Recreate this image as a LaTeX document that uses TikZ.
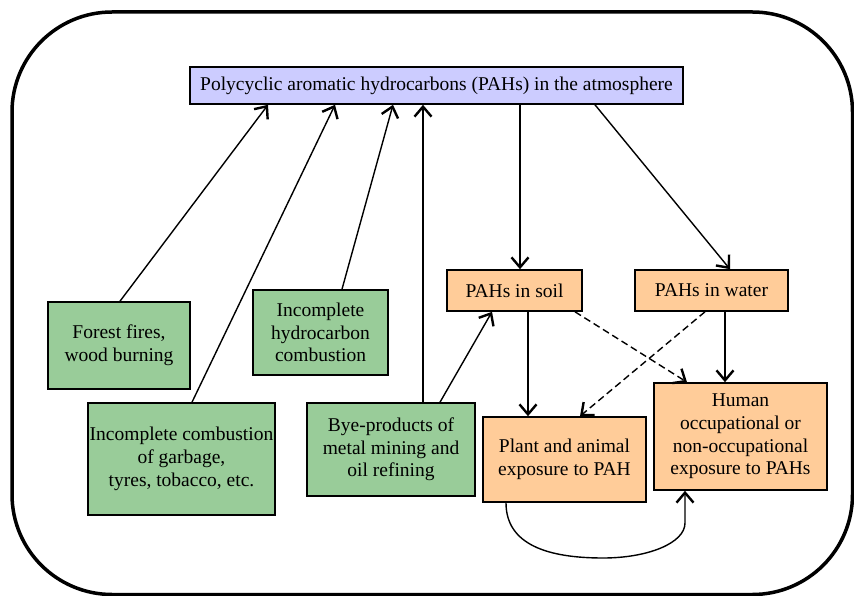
\documentclass[tikz,border=0pt]{standalone}
\usepackage{fontspec}
\setmainfont{Liberation Serif}
\usetikzlibrary{arrows.meta}
\definecolor{lav}{HTML}{CCCCFF}
\definecolor{grn}{HTML}{99CC99}
\definecolor{org}{HTML}{FFCC99}
\begin{document}
\begin{tikzpicture}[x=1pt,y=-1pt,
  box/.style={draw=black,line width=1.6pt,align=center,inner sep=0pt,
    font=\fontsize{19.5}{22.7}\selectfont},
  src/.style={box,fill=grn},
  res/.style={box,fill=org},
  arr/.style={line width=1.4pt,-{Straight Barb[length=10pt,width=17pt,line width=2.4pt]}},
  darr/.style={arr,dash pattern=on 7pt off 4pt}]
\useasboundingbox (0,0) rectangle (854,596);
\draw[line width=3.5pt,rounded corners=100pt] (12,12) rectangle (852.5,594.5);
\node[box,fill=lav,minimum width=493pt,minimum height=37pt] (title) at (436.5,85.5)
  {Polycyclic aromatic hydrocarbons (PAHs) in the atmosphere};
\node[src,minimum width=142pt,minimum height=87pt] (forest) at (119,345.5)
  {Forest fires,\\wood burning};
\node[src,minimum width=135pt,minimum height=85pt] (hydro) at (320.5,332.5)
  {Incomplete\\hydrocarbon\\combustion};
\node[src,minimum width=187pt,minimum height=112pt] (garb) at (181.5,459)
  {Incomplete combustion\\of garbage,\\tyres, tobacco, etc.};
\node[src,minimum width=168pt,minimum height=93pt] (bye) at (391,449.5)
  {Bye-products of\\metal mining and\\oil refining};
\node[res,minimum width=135pt,minimum height=41pt] (soil) at (514.5,290.5)
  {PAHs in soil};
\node[res,minimum width=153pt,minimum height=41pt] (water) at (711.5,290.5)
  {PAHs in water};
\node[res,minimum width=163pt,minimum height=85pt] (plant) at (564.5,459.5)
  {Plant and animal\\exposure to PAH};
\node[res,minimum width=173pt,minimum height=107pt] (human) at (740.5,436.5)
  {Human\\occupational or\\non-occupational\\exposure to PAHs};
\draw[arr] ([xshift=1pt]forest.north) -- ([xshift=-168.5pt]title.south);
\draw[arr] ([xshift=10.5pt]garb.north) -- ([xshift=-101.5pt]title.south);
\draw[arr] ([xshift=21.5pt]hydro.north) -- ([xshift=-43.5pt]title.south);
\draw[arr] ([xshift=32pt]bye.north) -- ([xshift=-13.5pt]title.south);
\draw[arr] ([xshift=49pt]bye.north) -- ([xshift=-22.5pt]soil.south);
\draw[arr] ([xshift=83.5pt]title.south) -- ([xshift=5.5pt]soil.north);
\draw[arr] ([xshift=158.5pt]title.south) -- ([xshift=18.5pt]water.north);
\draw[arr] ([xshift=13.5pt]soil.south) -- ([xshift=-36.5pt]plant.north);
\draw[darr] ([xshift=60.5pt]soil.south) -- ([xshift=-53.5pt]human.north);
\draw[darr] ([xshift=-6.5pt]water.south) -- ([xshift=15.5pt]plant.north);
\draw[arr] ([xshift=13.5pt]water.south) -- ([xshift=-15.5pt]human.north);
\coordinate (low) at (603,558);
\coordinate (bend) at (685,523);
\draw[arr] ([xshift=-58.5pt]plant.south) .. controls +(0,42) and +(-55,0) .. (low)
  .. controls +(45,0) and +(0,20) .. (bend) -- ([xshift=-55.5pt]human.south);
\end{tikzpicture}
\end{document}
